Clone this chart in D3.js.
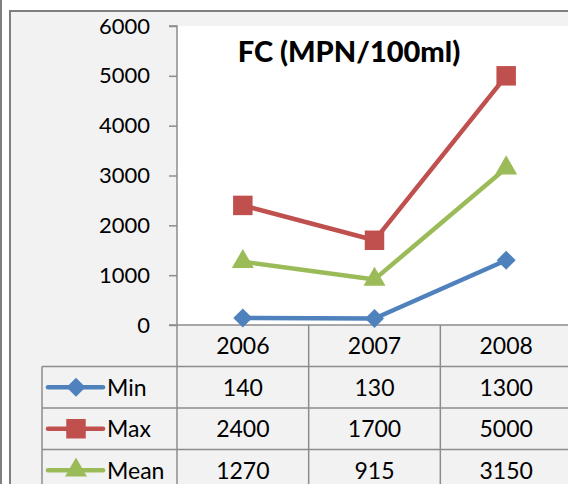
<!DOCTYPE html>
<html><head><meta charset="utf-8">
<script src="https://cdn.jsdelivr.net/npm/d3@7"></script>
<style>html,body{margin:0;padding:0;background:#fff;overflow:hidden}</style>
</head><body>
<svg id="c" width="568" height="484"></svg>
<script>
const categories = ["2006", "2007", "2008"];
const seriesNames = ["Min", "Max", "Mean"];
const minValues = [140, 130, 1300];
const maxValues = [2400, 1700, 5000];
const meanValues = [1270, 915, 3150];
const yTicks = [0, 1000, 2000, 3000, 4000, 5000, 6000];
const title = "FC (MPN/100ml)";

const diamond = {draw(ctx, size) { const r = Math.sqrt(size / 2); ctx.moveTo(0, -r); ctx.lineTo(r, 0); ctx.lineTo(0, r); ctx.lineTo(-r, 0); ctx.closePath(); }};

const series = [
  {name: seriesNames[0], values: minValues, color: "#4f81bd", symbol: diamond, size: 180},
  {name: seriesNames[1], values: maxValues, color: "#c0504d", symbol: d3.symbolSquare, size: 380},
  {name: seriesNames[2], values: meanValues, color: "#9bbb59", symbol: d3.symbolTriangle, size: 210}
];

const svg = d3.select("#c");
const font = "Lato, 'Open Sans', sans-serif";
const grid = "#8c8c8c";
const fs = 23;

// outer frames
svg.append("line").attr("x1", 1).attr("x2", 1).attr("y1", 0).attr("y2", 484).attr("stroke", "#7f7f7f").attr("stroke-width", 2);
svg.append("rect").attr("x", 10).attr("y", 11).attr("width", 580).attr("height", 500)
  .attr("fill", "#f2f2f2").attr("stroke", "#7f7f7f").attr("stroke-width", 2);

const plotL = 177, plotT = 26, plotB = 325, plotR = 573;
svg.append("rect").attr("x", plotL).attr("y", plotT).attr("width", plotR - plotL).attr("height", plotB - plotT).attr("fill", "#fff");

const x = d3.scaleBand().domain(categories).range([plotL, plotR - 1]);
const y = d3.scaleLinear().domain([0, 6000]).range([plotB, plotT]);

// y axis
const yAxis = svg.append("g").attr("transform", `translate(${plotL},0)`)
  .call(d3.axisLeft(y).tickValues(yTicks).tickSize(8).tickPadding(19).tickFormat(d3.format("d")));
yAxis.select(".domain").attr("stroke", grid).attr("stroke-width", 1.5).attr("d", `M-8,${plotT}H0V${plotB}`);
yAxis.selectAll(".tick line").attr("stroke", grid).attr("stroke-width", 1.5);
yAxis.selectAll(".tick text").attr("font-family", font).attr("font-size", 22).attr("fill", "#000");

// table
const rowH = 41.5;
const tableTop = plotB, tableLeft = 42;
const tbl = svg.append("g");
tbl.append("line").attr("x1", plotL - 8).attr("x2", 568).attr("y1", plotB).attr("y2", plotB).attr("stroke", grid).attr("stroke-width", 1.5);
for (let i = 1; i <= 3; i++) {
  const yy = tableTop + i * rowH;
  tbl.append("line").attr("x1", tableLeft).attr("x2", 568).attr("y1", yy).attr("y2", yy).attr("stroke", grid).attr("stroke-width", 1.5);
}
tbl.append("line").attr("x1", tableLeft).attr("x2", tableLeft).attr("y1", tableTop + rowH).attr("y2", 484).attr("stroke", grid).attr("stroke-width", 1.5);
categories.forEach(c => {
  const xx = x(c);
  tbl.append("line").attr("x1", xx).attr("x2", xx).attr("y1", tableTop).attr("y2", 484).attr("stroke", grid).attr("stroke-width", 1.5);
});
categories.forEach(c => {
  tbl.append("text").attr("x", x(c) + x.bandwidth() / 2).attr("y", tableTop + rowH / 2).attr("dy", "0.36em")
    .attr("text-anchor", "middle").attr("font-family", font).attr("font-size", fs).text(c);
});
series.forEach((s, r) => {
  const cy = tableTop + (r + 1.5) * rowH;
  tbl.append("line").attr("x1", 48).attr("x2", 103).attr("y1", cy).attr("y2", cy).attr("stroke", s.color).attr("stroke-width", 4.5).attr("stroke-linecap", "round");
  tbl.append("path").attr("d", d3.symbol(s.symbol, s.size)()).attr("transform", `translate(76,${cy})`).attr("fill", s.color);
  tbl.append("text").attr("x", 107).attr("y", cy).attr("dy", "0.36em").attr("font-family", font).attr("font-size", fs).text(s.name);
  s.values.forEach((v, i) => {
    tbl.append("text").attr("x", x(categories[i]) + x.bandwidth() / 2).attr("y", cy).attr("dy", "0.36em")
      .attr("text-anchor", "middle").attr("font-family", font).attr("font-size", fs).text(v);
  });
});

// lines
const line = d3.line().x((d, i) => x(categories[i]) + x.bandwidth() / 2).y(d => y(d));
series.forEach(s => {
  svg.append("path").datum(s.values).attr("d", line).attr("fill", "none").attr("stroke", s.color).attr("stroke-width", 4.5).attr("stroke-linejoin", "round");
  svg.selectAll(null).data(s.values).enter().append("path")
    .attr("d", d3.symbol(s.symbol, s.size)())
    .attr("transform", (d, i) => `translate(${x(categories[i]) + x.bandwidth() / 2},${y(d)})`)
    .attr("fill", s.color);
});

// title
svg.append("text").attr("x", 349).attr("y", 52).attr("dy", "0.36em").attr("text-anchor", "middle")
  .attr("font-family", font).attr("font-weight", "900").attr("font-size", 29).text(title);
</script>
</body></html>
